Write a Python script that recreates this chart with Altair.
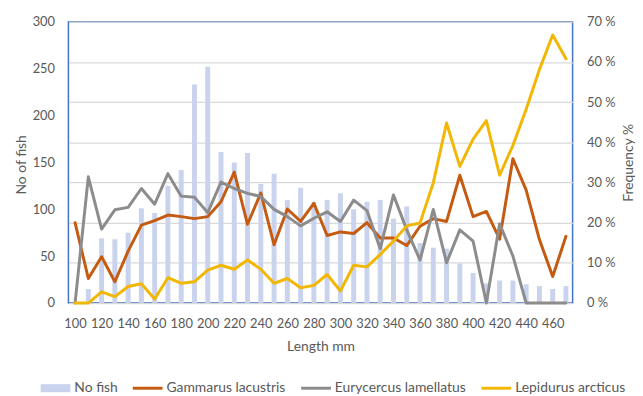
import altair as alt
import pandas as pd

# ---- data ----
lengths = [100, 110, 120, 130, 140, 150, 160, 170, 180, 190,
           200, 210, 220, 230, 240, 250, 260, 270, 280, 290,
           300, 310, 320, 330, 340, 350, 360, 370, 380, 390,
           400, 410, 420, 430, 440, 450, 460, 470]

no_fish = [0, 15, 69, 68, 75, 101, 96, 125, 142, 233,
           252, 161, 150, 160, 127, 138, 110, 123, 108, 110,
           117, 100, 108, 110, 90, 103, 64, 59, 58, 42,
           32, 21, 24, 24, 20, 18, 15, 18]

gammarus = [20.0, 6.1, 11.5, 5.3, 12.9, 19.4, 20.5, 21.9, 21.5, 21.0,
            21.5, 25.2, 32.6, 19.6, 27.4, 14.5, 23.4, 20.3, 24.8, 16.8,
            17.7, 17.3, 20.0, 16.2, 16.2, 14.3, 19.1, 21.0, 20.3, 31.8,
            21.5, 22.8, 15.9, 35.9, 28.1, 15.8, 6.6, 16.6]

eurycercus = [0.0, 31.4, 18.4, 23.2, 23.8, 28.5, 24.6, 32.2, 26.6, 26.3,
              22.5, 30.1, 28.5, 27.3, 26.5, 23.3, 21.5, 19.2, 21.1, 22.7,
              20.3, 25.6, 23.0, 13.5, 26.9, 18.2, 10.7, 23.3, 10.0, 18.2,
              15.4, 0.0, 19.7, 11.7, 0.0, 0.0, 0.0, 0.0]

lepidurus = [0.0, 0.0, 2.8, 1.6, 4.1, 4.8, 1.0, 6.3, 4.9, 5.3,
             8.2, 9.4, 8.4, 10.7, 8.4, 4.9, 6.1, 3.8, 4.4, 7.1,
             3.0, 9.4, 9.0, 12.1, 15.4, 19.2, 19.9, 29.9, 44.8, 34.0,
             40.8, 45.4, 31.8, 39.2, 48.2, 58.1, 66.7, 60.8]

series_names = ["No fish", "Gammarus lacustris", "Eurycercus lamellatus", "Lepidurus arcticus"]
series_colors = ["#C9D3EE", "#C55A11", "#8C8C8C", "#F2B705"]

x_ticks = [100, 120, 140, 160, 180, 200, 220, 240, 260, 280,
           300, 320, 340, 360, 380, 400, 420, 440, 460]
left_ticks = [0, 50, 100, 150, 200, 250, 300]
right_ticks = [0, 10, 20, 30, 40, 50, 60, 70]

# ---- tables ----
bars_df = pd.DataFrame({"Length": lengths, "No fish": no_fish})
lines_df = pd.DataFrame({
    "Length": lengths,
    "Gammarus lacustris": gammarus,
    "Eurycercus lamellatus": eurycercus,
    "Lepidurus arcticus": lepidurus,
}).melt(id_vars="Length", var_name="series", value_name="pct")
legend_df = pd.DataFrame({"series": series_names})

FONT = "Lato"
TXT = "#595959"
GRID = "#D9D9D9"

x_enc = alt.X(
    "Length:O",
    scale=alt.Scale(type="point", padding=0.5),
    axis=alt.Axis(values=x_ticks, title="Length mm", labelAngle=0, ticks=False,
                  domainColor=GRID, domainWidth=1, labelPadding=15,
                  labelFont=FONT, labelFontSize=13, labelColor=TXT,
                  titleFont=FONT, titleFontSize=14, titleColor=TXT,
                  titleFontWeight="normal", titleBaseline="alphabetic", titleY=48),
)

bars = alt.Chart(bars_df).mark_bar(size=5, color=series_colors[0]).encode(
    x=x_enc,
    y=alt.Y("No fish:Q", scale=alt.Scale(domain=[0, 300]),
            axis=alt.Axis(orient="left", values=left_ticks, title="No of fish",
                          grid=False, ticks=False, domain=False, labelPadding=14,
                          labelFont=FONT, labelFontSize=13, labelColor=TXT,
                          titleFont=FONT, titleFontSize=14, titleColor=TXT,
                          titleFontWeight="normal", titleAngle=270,
                          titleBaseline="alphabetic", titleX=-43, titleY=144)),
)

right_axis = alt.Axis(orient="right", values=right_ticks, title="Frequency %",
                      grid=True, gridColor=GRID, gridWidth=1.3, ticks=False, domain=False,
                      labelPadding=14, labelExpr="datum.value + ' %'",
                      labelFont=FONT, labelFontSize=13, labelColor=TXT,
                      titleFont=FONT, titleFontSize=14, titleColor=TXT,
                      titleFontWeight="normal", titleAngle=270,
                      titleBaseline="alphabetic", titleX=60, titleY=142)

line_layers = []
for i, name in enumerate(series_names[1:]):
    line_layers.append(
        alt.Chart(lines_df).transform_filter(alt.datum.series == name)
        .mark_line(strokeWidth=3, color=series_colors[i + 1], strokeJoin="round", strokeCap="round")
        .encode(
            x=x_enc,
            y=alt.Y("pct:Q", scale=alt.Scale(domain=[0, 70]), axis=right_axis),
        )
    )

shape_paths = [
    "M-1,-0.27H1V0.27H-1Z",
    "M-1,-0.1H1V0.1H-1Z",
    "M-1,-0.1H1V0.1H-1Z",
    "M-1,-0.1H1V0.1H-1Z",
]

leg = alt.Legend(title=None, orient="none", direction="horizontal",
                 legendX=-28, legendY=355, symbolSize=900, symbolStrokeWidth=0,
                 symbolOpacity=1, labelFont=FONT, labelFontSize=14, labelColor=TXT,
                 labelOffset=4, columnPadding=15)

legend_layer = alt.Chart(legend_df).mark_point(
    filled=True, opacity=1, size=900, clip=True, strokeWidth=0
).encode(
    x=alt.value(-200),
    y=alt.value(-200),
    color=alt.Color("series:N", scale=alt.Scale(domain=series_names, range=series_colors),
                    sort=series_names, legend=leg),
    shape=alt.Shape("series:N", scale=alt.Scale(domain=series_names, range=shape_paths),
                    sort=series_names, legend=leg),
)

lines = alt.layer(*line_layers)

chart = alt.layer(bars, lines, legend_layer).resolve_scale(y="independent").properties(
    width=509,
    height=284,
    padding={"left": 61, "top": 12, "right": 63, "bottom": 92},
    autosize=alt.AutoSizeParams(type="none"),
    background="white",
).configure_view(stroke="#4472C4", strokeWidth=1.5)

chart.save("out.html", embed_options={"renderer": "svg", "actions": False})
